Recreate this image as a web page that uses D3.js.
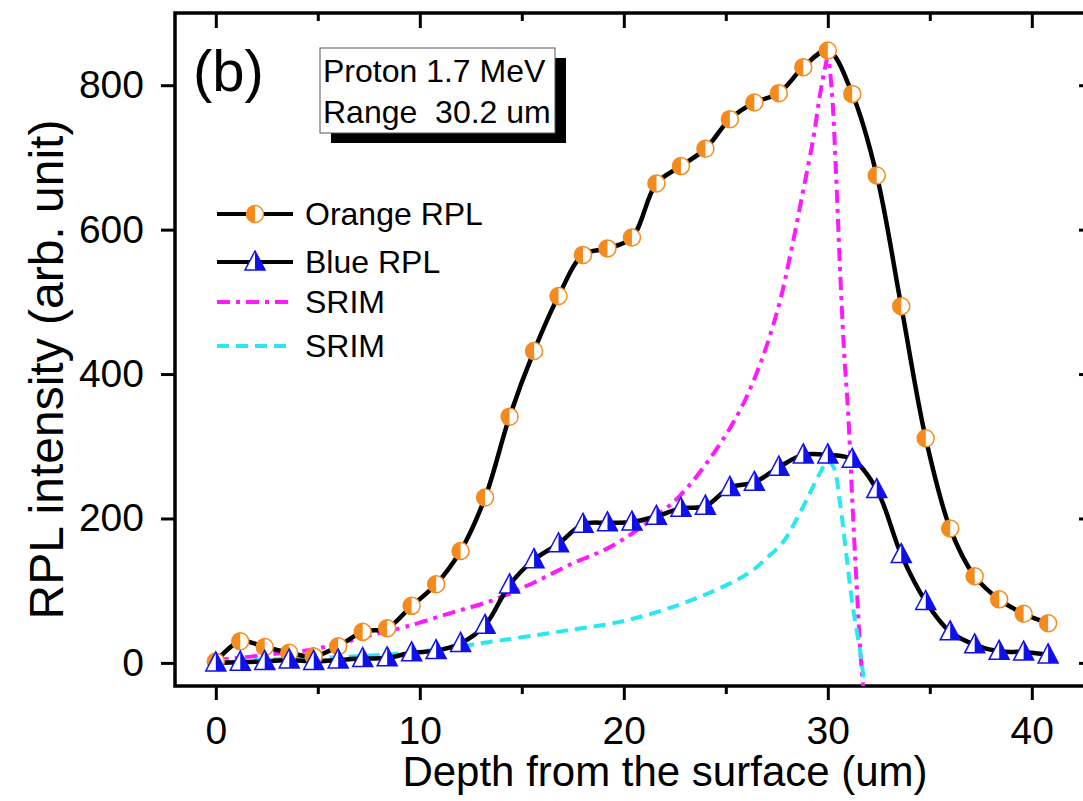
<!DOCTYPE html>
<html lang="en">
<head>
  <meta charset="UTF-8">
  <title>RPL intensity vs depth</title>
  <script src="https://d3js.org/d3.v7.min.js"></script>
  <style>
    body { margin: 0; background: #fff; font-family: "Liberation Sans", Arial, sans-serif; }
    svg { display: block; }
  </style>
</head>
<body>
  <svg id="chart" width="1083" height="801"></svg>
  <script>
// depth positions (um) of the measured points
const depth = [0, 1.2, 2.4, 3.6, 4.8, 6.0, 7.2, 8.4, 9.6, 10.8, 12.0, 13.2, 14.4, 15.6, 16.8, 18.0,
  19.2, 20.4, 21.6, 22.8, 24.0, 25.2, 26.4, 27.6, 28.8, 30.0, 31.2, 32.4, 33.6, 34.8, 36.0, 37.2,
  38.4, 39.6, 40.8];
const orangeRPL = [2, 30, 22, 14, 9, 23, 43, 48, 79, 109, 155, 229, 341, 432, 508, 565,
  574, 589, 664, 688, 712, 753, 776, 789, 825, 848, 788, 675, 494, 311, 186, 120,
  88, 68, 55];
const blueRPL = [0, 1, 2, 4, 2, 4, 6, 7, 14, 17, 27, 52, 108, 143, 165, 192,
  194, 195, 203, 214, 217, 243, 250, 271, 288, 288, 282, 240, 150, 85, 43, 25,
  16, 15, 11];

// SRIM curves [depth, intensity]
const srimMagenta = [[0, 4], [1.5, 8], [3, 13], [4.6, 18], [6.1, 27], [7.7, 39], [9.3, 50],
  [11.5, 69], [13.6, 87], [15.5, 110], [17.5, 138], [19.3, 160], [21.1, 193], [22.7, 230],
  [24.4, 290], [25.7, 350], [26.7, 415], [27.6, 495], [28.2, 570], [28.8, 655], [29.3, 728],
  [29.6, 784], [29.85, 822], [30.0, 838], [30.2, 790], [30.4, 680], [30.6, 545], [30.8, 430],
  [31.0, 345], [31.2, 225], [31.4, 115], [31.6, 14], [31.75, -40]];
const srimCyan = [[0, 2], [2, 4], [4, 6], [6, 8], [9, 13], [11.5, 21], [13.9, 31], [17, 44],
  [20.3, 60], [23.6, 90], [26.1, 124], [27.0, 145], [27.8, 167], [28.3, 190],
  [29.0, 228], [29.6, 262], [30.0, 279], [30.3, 270], [30.6, 221], [30.9, 152], [31.2, 83],
  [31.6, 13], [31.75, -20]];

const xMajor = [0, 10, 20, 30, 40];
const xMinor = [5, 15, 25, 35];
const yMajor = [0, 200, 400, 600, 800];

const legendLabels = ["Orange RPL", "Blue RPL", "SRIM", "SRIM"];
const boxLines = ["Proton 1.7 MeV", "Range  30.2 um"];

const ORANGE = "#f58a1f";
const BLUE = "#1010ee";
const MAGENTA = "#ff19ff";
const CYAN = "#29e8f2";

const svg = d3.select("#chart");
const x = d3.scaleLinear().domain([-2, 43]).range([175, 1093]);
const y = d3.scaleLinear().domain([-32, 900]).range([686, 13]);

svg.append("defs").append("clipPath").attr("id", "plotClip")
  .append("rect")
  .attr("x", x(-2)).attr("y", y(900))
  .attr("width", x(43) - x(-2)).attr("height", y(-32) - y(900));

// axes and ticks
function styleAxis(g) {
  g.select(".domain").remove();
  g.selectAll(".tick line").attr("stroke", "#000").attr("stroke-width", 3);
  g.selectAll(".tick text").attr("fill", "#000")
    .style("font-family", "'Liberation Sans', Arial, sans-serif");
}

svg.append("g").attr("transform", `translate(0,${y(-32)})`)
  .call(d3.axisBottom(x).tickValues(xMajor).tickSize(14))
  .call(styleAxis)
  .selectAll(".tick text").style("font-size", "39px").attr("y", 58).attr("dy", 0);
svg.append("g").attr("transform", `translate(0,${y(-32)})`)
  .call(d3.axisBottom(x).tickValues(xMinor).tickSize(8).tickFormat(""))
  .call(styleAxis);
svg.append("g").attr("transform", `translate(0,${y(900)})`)
  .call(d3.axisTop(x).tickValues(xMajor).tickSize(-15).tickFormat(""))
  .call(styleAxis);
svg.append("g").attr("transform", `translate(0,${y(900)})`)
  .call(d3.axisTop(x).tickValues(xMinor).tickSize(-8).tickFormat(""))
  .call(styleAxis);

svg.append("g").attr("transform", `translate(${x(-2)},0)`)
  .call(d3.axisLeft(y).tickValues(yMajor).tickSize(14).tickPadding(17))
  .call(styleAxis)
  .selectAll(".tick text").style("font-size", "39px");
svg.append("g").attr("transform", `translate(${x(43)},0)`)
  .call(d3.axisRight(y).tickValues(yMajor).tickSize(-14).tickFormat(""))
  .call(styleAxis);

svg.append("rect")
  .attr("x", x(-2)).attr("y", y(900))
  .attr("width", x(43) - x(-2)).attr("height", y(-32) - y(900))
  .attr("fill", "none").attr("stroke", "#000").attr("stroke-width", 3.5);

// axis titles
svg.append("text")
  .attr("x", 665).attr("y", 786)
  .attr("text-anchor", "middle").attr("font-size", "42px")
  .text("Depth from the surface (um)");
svg.append("text")
  .attr("transform", `translate(63,${(y(900) + y(-32)) / 2 + 20}) rotate(-90)`)
  .attr("text-anchor", "middle").attr("font-size", "48px")
  .text("RPL intensity (arb. unit)");

const plot = svg.append("g").attr("clip-path", "url(#plotClip)");

const spline = d3.line().x(d => x(d[0])).y(d => y(d[1])).curve(d3.curveCatmullRom.alpha(0.5));

plot.append("path").datum(srimMagenta)
  .attr("d", spline).attr("fill", "none")
  .attr("stroke", MAGENTA).attr("stroke-width", 4).attr("stroke-dasharray", "13,6,4,6");
plot.append("path").datum(srimCyan)
  .attr("d", spline).attr("fill", "none")
  .attr("stroke", CYAN).attr("stroke-width", 4).attr("stroke-dasharray", "12,7");

const orangePts = depth.map((d, i) => [d, orangeRPL[i]]);
const bluePts = depth.map((d, i) => [d, blueRPL[i]]);

plot.append("path").datum(orangePts)
  .attr("d", spline).attr("fill", "none").attr("stroke", "#000").attr("stroke-width", 4.5);
plot.append("path").datum(bluePts)
  .attr("d", spline).attr("fill", "none").attr("stroke", "#000").attr("stroke-width", 4.5);

const R = 8.5;
function halfCircle(g) {
  g.append("circle").attr("r", R).attr("fill", "#fff").attr("stroke", ORANGE).attr("stroke-width", 1.5);
  g.append("path").attr("d", `M0,${-R} A${R},${R} 0 0 0 0,${R} Z`).attr("fill", ORANGE);
}
function halfTriangle(g) {
  g.append("path").attr("d", "M0,-11 L10,8 L-10,8 Z")
    .attr("fill", "#fff").attr("stroke", BLUE).attr("stroke-width", 1.5);
  g.append("path").attr("d", "M0,-11 L10,8 L0,8 Z").attr("fill", BLUE);
}

plot.selectAll(".mo").data(orangePts).enter().append("g")
  .attr("transform", d => `translate(${x(d[0])},${y(d[1])})`)
  .each(function() { halfCircle(d3.select(this)); });
plot.selectAll(".mb").data(bluePts).enter().append("g")
  .attr("transform", d => `translate(${x(d[0])},${y(d[1])})`)
  .each(function() { halfTriangle(d3.select(this)); });

// legend
const legendY = [214, 262, 302, 346];
const leg = svg.append("g");
legendLabels.forEach((lab, i) => {
  const ly = legendY[i];
  const line = leg.append("line").attr("x1", 217).attr("x2", 293)
    .attr("y1", ly).attr("y2", ly).attr("stroke-width", 4);
  if (i === 0 || i === 1) line.attr("stroke", "#000");
  if (i === 2) line.attr("stroke", MAGENTA).attr("stroke-dasharray", "13,6,4,6");
  if (i === 3) line.attr("stroke", CYAN).attr("stroke-dasharray", "12,7");
  if (i === 0) halfCircle(leg.append("g").attr("transform", `translate(255,${ly})`));
  if (i === 1) halfTriangle(leg.append("g").attr("transform", `translate(255,${ly})`));
  leg.append("text").attr("x", 305).attr("y", ly + 11).attr("font-size", "32px").text(lab);
});

// panel label and info box
svg.append("text").attr("x", 193).attr("y", 91).attr("font-size", "58px").text("(b)");
svg.append("rect").attr("x", 331).attr("y", 58).attr("width", 235).attr("height", 85).attr("fill", "#000");
svg.append("rect").attr("x", 320).attr("y", 48).attr("width", 235).attr("height", 85)
  .attr("fill", "#fff").attr("stroke", "#555").attr("stroke-width", 1);
boxLines.forEach((t, i) => {
  svg.append("text").attr("x", 323).attr("y", 82 + i * 41)
    .attr("font-size", "32px").attr("xml:space", "preserve").style("white-space", "pre").text(t);
});
  </script>
</body>
</html>
